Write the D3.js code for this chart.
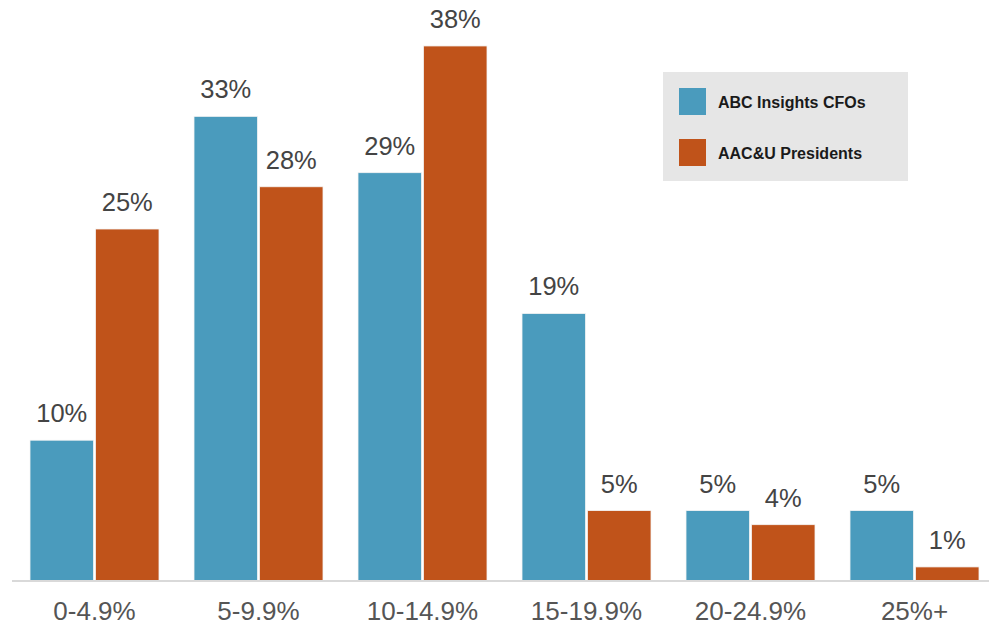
<!DOCTYPE html>
<html>
<head>
<meta charset="utf-8">
<script src="https://cdn.jsdelivr.net/npm/d3@7"></script>
<style>
  html, body { margin: 0; padding: 0; background: #ffffff; }
  svg { display: block; }
</style>
</head>
<body>
<svg id="chart" width="989" height="626"></svg>
<script>
// Share of respondents by range
const categories = ["0-4.9%", "5-9.9%", "10-14.9%", "15-19.9%", "20-24.9%", "25%+"];
const seriesNames = ["ABC Insights CFOs", "AAC&U Presidents"];
const cfoValues = [10, 33, 29, 19, 5, 5];
const presidentValues = [25, 28, 38, 5, 4, 1];
const seriesColors = ["#4a9bbd", "#c0531a"];

const rows = categories.map((c, i) => ({
  category: c,
  values: [
    { series: seriesNames[0], value: cfoValues[i] },
    { series: seriesNames[1], value: presidentValues[i] }
  ]
}));

const svg = d3.select("#chart");
const baseline = 581;
const fontFamily = "'Liberation Sans', Arial, Helvetica, sans-serif";

const x = d3.scaleBand()
  .domain(categories)
  .range([12.5, 996.5])
  .paddingInner(0.2134)
  .paddingOuter(0.1067);

const xInner = d3.scaleBand()
  .domain(seriesNames)
  .range([0, x.bandwidth()])
  .paddingInner(0.03);

const y = d3.scaleLinear()
  .domain([0, 40])
  .range([baseline, baseline - 14.08 * 40]);

const color = d3.scaleOrdinal().domain(seriesNames).range(seriesColors);

// Bars
const groups = svg.append("g").selectAll("g")
  .data(rows)
  .join("g")
  .attr("transform", d => `translate(${x(d.category)},0)`);

groups.selectAll("rect")
  .data(d => d.values)
  .join("rect")
  .attr("x", d => xInner(d.series))
  .attr("y", d => y(d.value))
  .attr("width", xInner.bandwidth())
  .attr("height", d => y(0) - y(d.value))
  .attr("fill", d => color(d.series))
  .attr("stroke", "#f4f4f4")
  .attr("stroke-width", 0.8);

// Value labels
groups.selectAll("text")
  .data(d => d.values)
  .join("text")
  .attr("x", d => xInner(d.series) + xInner.bandwidth() / 2)
  .attr("y", d => y(d.value) - 18)
  .attr("text-anchor", "middle")
  .attr("font-family", fontFamily)
  .attr("font-size", 25.5)
  .attr("fill", "#444444")
  .text(d => d.value + "%");

// Baseline axis
const xAxis = d3.axisBottom(x).tickSize(0).tickPadding(21);
const axisG = svg.append("g")
  .attr("transform", `translate(0,${baseline})`)
  .call(xAxis);
axisG.select(".domain")
  .attr("d", `M12,0H989`)
  .attr("stroke", "#d9d9d9")
  .attr("stroke-width", 2);
axisG.selectAll(".tick text")
  .attr("font-family", fontFamily)
  .attr("font-size", 26)
  .attr("fill", "#555555");

// Legend
const legend = svg.append("g").attr("transform", "translate(663,72)");
legend.append("rect")
  .attr("width", 245)
  .attr("height", 109)
  .attr("fill", "#e6e6e6");

const legendItems = legend.selectAll("g.item")
  .data(seriesNames)
  .join("g")
  .attr("class", "item")
  .attr("transform", (d, i) => `translate(16,${16 + i * 51})`);

legendItems.append("rect")
  .attr("width", 27)
  .attr("height", 27)
  .attr("fill", d => color(d));

legendItems.append("text")
  .attr("x", 39)
  .attr("y", 19.7)
  .attr("font-family", fontFamily)
  .attr("font-weight", "bold")
  .attr("font-size", 16)
  .attr("fill", "#1a1a1a")
  .text(d => d);
</script>
</body>
</html>
